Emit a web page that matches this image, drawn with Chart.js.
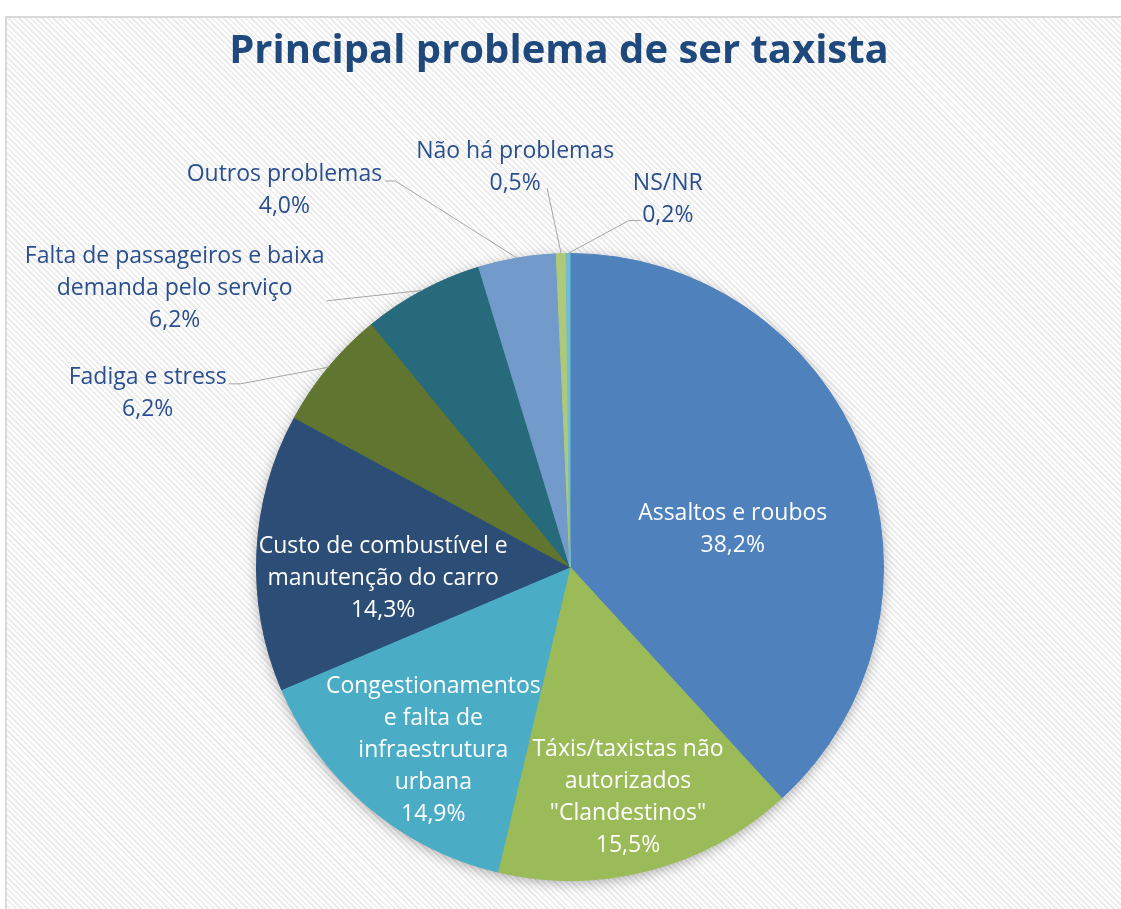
<!DOCTYPE html>
<html>
<head>
<meta charset="utf-8">
<script src="https://cdn.jsdelivr.net/npm/chart.js@4.4.0/dist/chart.umd.min.js"></script>
<style>
  html, body { margin: 0; padding: 0; background: #fff; }
  #wrap { position: relative; width: 1121px; height: 909px; overflow: hidden; }
  #fondo {
    position: absolute; left: 5px; top: 16px; width: 1140px; height: 920px;
    border-top: 2px solid #d9d9d9; border-left: 2px solid #d9d9d9;
    background: repeating-linear-gradient(45deg, #ffffff 0px, #ffffff 2.2px, #ececec 2.2px, #ececec 4px);
  }
  canvas { position: absolute; left: 0; top: 0; }
</style>
</head>
<body>
<div id="wrap">
  <div id="fondo"></div>
  <canvas id="grafico" width="1121" height="909"></canvas>
</div>
<script>
const titulo = "Principal problema de ser taxista";

const categorias = [
    "Assaltos e roubos",
    "Táxis/taxistas não autorizados \"Clandestinos\"",
    "Congestionamentos e falta de infraestrutura urbana",
    "Custo de combustível e manutenção do carro",
    "Fadiga e stress",
    "Falta de passageiros e baixa demanda pelo serviço",
    "Outros problemas",
    "Não há problemas",
    "NS/NR"
];
const valores = [38.2, 15.5, 14.9, 14.3, 6.2, 6.2, 4.0, 0.5, 0.2];
const cores = ["#4f81bd", "#9bbb59", "#4bacc6", "#2c4d75", "#5f7530", "#276a7c", "#729aca", "#afc97a", "#6fbdd1"];

// linhas do rótulo como aparecem no original
const linhasRotulo = [
    ["Assaltos e roubos"],
    ["Táxis/taxistas não", "autorizados", "\"Clandestinos\""],
    ["Congestionamentos", "e falta de", "infraestrutura", "urbana"],
    ["Custo de combustível e", "manutenção do carro"],
    ["Fadiga e stress"],
    ["Falta de passageiros e baixa", "demanda pelo serviço"],
    ["Outros problemas"],
    ["Não há problemas"],
    ["NS/NR"]
];

// posição do centro do rótulo, em frações do raio a partir do centro
const posRotulo = [
    [0.519, -0.121], [0.185, 0.734], [-0.436, 0.586], [-0.596, 0.035],
    [-1.347, -0.554], [-1.261, -0.889], [-0.911, -1.201], [-0.175, -1.274], [0.312, -1.172]
];
// linha de chamada: [dx, dy] a partir do centro do rótulo, traço horizontal
const chamada = [
    null, null, null, null,
    [81, -9.5, 12], [152, 12.5, 0], [101, -9.5, 10], [32, 20.5, 0], [-27, 21, -12]
];

const fonteRotulo = '23px "Open Sans"';
const alturaLinha = 32;

const sombra = {
    id: "sombra",
    beforeDatasetsDraw(chart) {
        const arc = chart.getDatasetMeta(0).data[0];
        if (!arc) return;
        const c = chart.ctx;
        c.save();
        c.shadowColor = "rgba(0,0,0,0.35)";
        c.shadowBlur = 14;
        c.shadowOffsetY = 3;
        c.fillStyle = "#888";
        c.beginPath();
        c.arc(arc.x, arc.y, arc.outerRadius - 1, 0, Math.PI * 2);
        c.fill();
        c.restore();
    }
};

const rotulos = {
    id: "rotulos",
    afterDatasetsDraw(chart) {
        const c = chart.ctx;
        const arcs = chart.getDatasetMeta(0).data;
        c.save();
        c.textAlign = "center";
        c.textBaseline = "middle";
        c.font = fonteRotulo;
        arcs.forEach((arc, i) => {
            const r = arc.outerRadius;
            const cx = arc.x + posRotulo[i][0] * r;
            const cy = arc.y + posRotulo[i][1] * r;
            const linhas = linhasRotulo[i].concat([valores[i].toFixed(1).replace(".", ",") + "%"]);
            const fora = chamada[i] !== null;
            if (fora) {
                const [dx, dy, traco] = chamada[i];
                const meio = (arc.startAngle + arc.endAngle) / 2;
                const ax = arc.x + Math.cos(meio) * r;
                const ay = arc.y + Math.sin(meio) * r;
                c.strokeStyle = "#a6a6a6";
                c.lineWidth = 1;
                c.beginPath();
                c.moveTo(cx + dx, cy + dy);
                c.lineTo(cx + dx + traco, cy + dy);
                c.lineTo(ax, ay);
                c.stroke();
            }
            c.fillStyle = fora ? "#2a4f8f" : "#ffffff";
            linhas.forEach((t, k) => {
                c.fillText(t, cx, cy + (k - (linhas.length - 1) / 2) * alturaLinha);
            });
        });
        c.fillStyle = "#1f497d";
        c.font = 'bold 40px "Open Sans"';
        c.fillText(titulo, 559, 52);
        c.restore();
    }
};

new Chart(document.getElementById("grafico"), {
    type: "pie",
    data: {
        labels: categorias,
        datasets: [{
            data: valores,
            backgroundColor: cores,
            borderColor: cores,
            borderWidth: 1
        }]
    },
    options: {
        responsive: false,
        animation: false,
        layout: { padding: { left: 256, top: 253, right: 237, bottom: 28 } },
        plugins: {
            legend: { display: false },
            title: { display: false },
            tooltip: { enabled: false }
        }
    },
    plugins: [sombra, rotulos]
});
</script>
</body>
</html>
